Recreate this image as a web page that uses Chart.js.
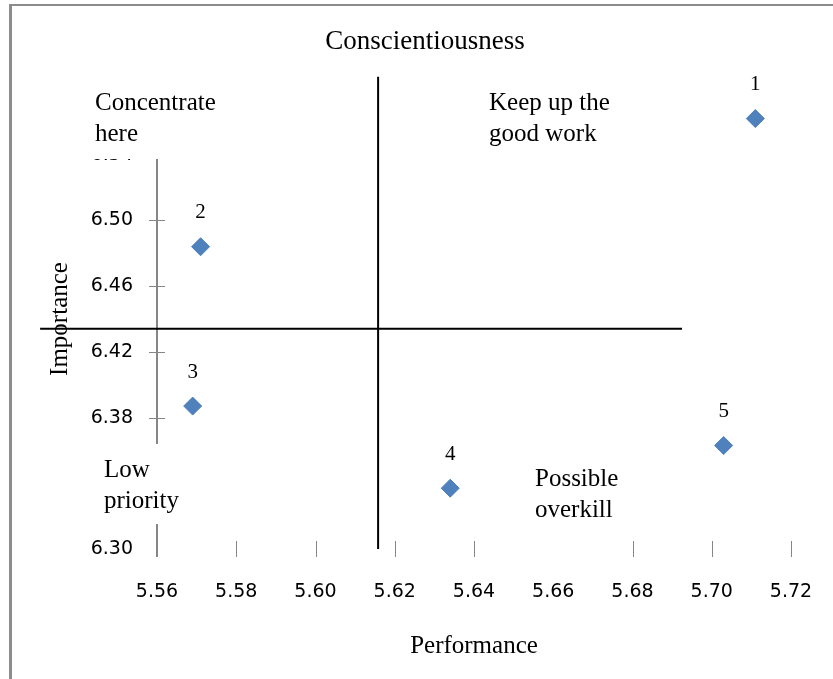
<!DOCTYPE html>
<html>
<head>
<meta charset="utf-8">
<title>Conscientiousness</title>
<script src="https://cdn.jsdelivr.net/npm/chart.js@4.4.0/dist/chart.umd.min.js"></script>
<style>
  html, body { margin: 0; padding: 0; background: #fff; }
  #wrap { width: 833px; height: 679px; }
</style>
</head>
<body>
<div id="wrap"><canvas id="chart" width="833" height="679"></canvas></div>
<script>
// data
const pointLabels = ["1", "2", "3", "4", "5"];
const performanceScores = [5.711, 5.571, 5.569, 5.634, 5.703];
const importanceScores = [6.562, 6.484, 6.387, 6.337, 6.363];

const xTicks = [5.56, 5.58, 5.6, 5.62, 5.64, 5.66, 5.68, 5.7, 5.72];
const yTicks = [6.3, 6.34, 6.38, 6.42, 6.46, 6.5, 6.54, 6.58];

// quadrant divider lines
const vLineX = [5.6158, 5.6158];
const vLineY = [6.3, 6.5875];
const hLineX = [5.5305, 5.6925];
const hLineY = [6.4341, 6.4341];

const serif = '"Liberation Serif", "Times New Roman", serif';
const sans = '"DejaVu Sans", sans-serif';

// quadrant notes (Excel text boxes with white fill)
const notes = [
  { box: [88, 78, 137, 81], x: 95, lines: ["Concentrate", "here"], y: 103 },
  { box: [480, 80, 140, 76], x: 489, lines: ["Keep up the", "good work"], y: 103 },
  { box: [86, 444, 100, 80], x: 104, lines: ["Low", "priority"], y: 470 },
  { box: [525, 460, 100, 100], x: 535, lines: ["Possible", "overkill"], y: 479 },
];

const toPoints = (xs, ys) => xs.map((x, i) => ({ x: x, y: ys[i] }));

const axisPlugin = {
  id: "axisLines",
  beforeDraw(chart) {
    const ctx = chart.ctx;
    ctx.save();
    ctx.fillStyle = "#fff";
    ctx.fillRect(0, 0, chart.width, chart.height);
    ctx.restore();
  },
  beforeDatasetsDraw(chart) {
    const ctx = chart.ctx;
    const xs = chart.scales.x;
    const ys = chart.scales.y;
    const ax = Math.round(xs.getPixelForValue(xTicks[0]));
    ctx.save();
    ctx.strokeStyle = "#868686";
    ctx.lineWidth = 2;
    ctx.beginPath();
    ctx.moveTo(ax, ys.top);
    ctx.lineTo(ax, ys.bottom + 8);
    ctx.stroke();

    ctx.lineWidth = 1;
    ctx.beginPath();
    yTicks.slice(1).forEach((v) => {
      const py = Math.round(ys.getPixelForValue(v)) + 0.5;
      ctx.moveTo(ax - 8, py);
      ctx.lineTo(ax + 8, py);
    });
    xTicks.slice(1).forEach((v) => {
      const px = Math.round(xs.getPixelForValue(v)) + 0.5;
      ctx.moveTo(px, ys.bottom - 8);
      ctx.lineTo(px, ys.bottom + 8);
    });
    ctx.stroke();
    ctx.restore();
  },
  afterDraw(chart) {
    const ctx = chart.ctx;
    ctx.save();

    // point numbers
    const meta = chart.getDatasetMeta(0);
    ctx.fillStyle = "#000";
    ctx.font = "21px " + serif;
    ctx.textAlign = "center";
    ctx.textBaseline = "middle";
    meta.data.forEach((pt, i) => {
      ctx.fillText(pointLabels[i], pt.x, pt.y - 34);
    });

    // text boxes
    ctx.font = "25px " + serif;
    ctx.textAlign = "left";
    notes.forEach((n) => {
      ctx.fillStyle = "#fff";
      ctx.fillRect(n.box[0], n.box[1], n.box[2], n.box[3]);
      ctx.fillStyle = "#000";
      n.lines.forEach((t, i) => ctx.fillText(t, n.x, n.y + i * 31));
    });

    // title
    ctx.font = "27px " + serif;
    ctx.textAlign = "center";
    ctx.fillText("Conscientiousness", 425, 42);

    // outer frame
    ctx.fillStyle = "#8c8c8c";
    ctx.fillRect(9, 4, 3, chart.height - 4);
    ctx.fillRect(9, 4, chart.width - 9, 2);
    ctx.restore();
  },
};

const ctx = document.getElementById("chart").getContext("2d");
new Chart(ctx, {
  type: "scatter",
  data: {
    datasets: [
      {
        label: "Conscientiousness",
        data: toPoints(performanceScores, importanceScores),
        pointStyle: "rectRot",
        pointRadius: 9,
        pointHoverRadius: 9,
        backgroundColor: "#4F81BD",
        borderColor: "#4F81BD",
        borderWidth: 1,
      },
      {
        label: "vertical",
        data: toPoints(vLineX, vLineY),
        showLine: true,
        borderColor: "#000",
        borderWidth: 2,
        pointRadius: 0,
        clip: false,
      },
      {
        label: "horizontal",
        data: toPoints(hLineX, hLineY),
        showLine: true,
        borderColor: "#000",
        borderWidth: 2,
        pointRadius: 0,
        clip: false,
      },
    ],
  },
  options: {
    responsive: false,
    animation: false,
    layout: { padding: { left: 0, right: 42, top: 89, bottom: 0 } },
    plugins: {
      legend: { display: false },
      tooltip: { enabled: false },
      title: { display: false },
    },
    scales: {
      x: {
        type: "linear",
        min: 5.56,
        max: 5.72,
        afterBuildTicks: (s) => { s.ticks = xTicks.map((v) => ({ value: v })); },
        afterFit: (s) => {
          s.height = 130;
          s.paddingLeft = 0;
          s.paddingRight = 0;
        },
        grid: { display: false, drawTicks: false },
        border: { display: false },
        ticks: {
          padding: 32,
          color: "#000",
          font: { family: sans, size: 19 },
          maxRotation: 0,
          autoSkip: false,
          callback: (v) => Number(v).toFixed(2),
        },
        title: {
          display: true,
          text: "Performance",
          color: "#000",
          font: { family: serif, size: 25 },
          padding: { top: 0, bottom: 18 },
        },
      },
      y: {
        type: "linear",
        min: 6.3,
        max: 6.58,
        afterBuildTicks: (s) => { s.ticks = yTicks.map((v) => ({ value: v })); },
        afterFit: (s) => {
          s.width = 157;
          s.paddingTop = 0;
          s.paddingBottom = 0;
        },
        grid: { display: false, drawTicks: false },
        border: { display: false },
        ticks: {
          padding: 24,
          color: "#000",
          font: { family: sans, size: 19 },
          autoSkip: false,
          callback: (v) => Number(v).toFixed(2),
        },
        title: {
          display: true,
          text: "Importance",
          color: "#000",
          font: { family: serif, size: 25 },
          padding: { top: 45, bottom: 0 },
        },
      },
    },
  },
  plugins: [axisPlugin],
});
</script>
</body>
</html>
